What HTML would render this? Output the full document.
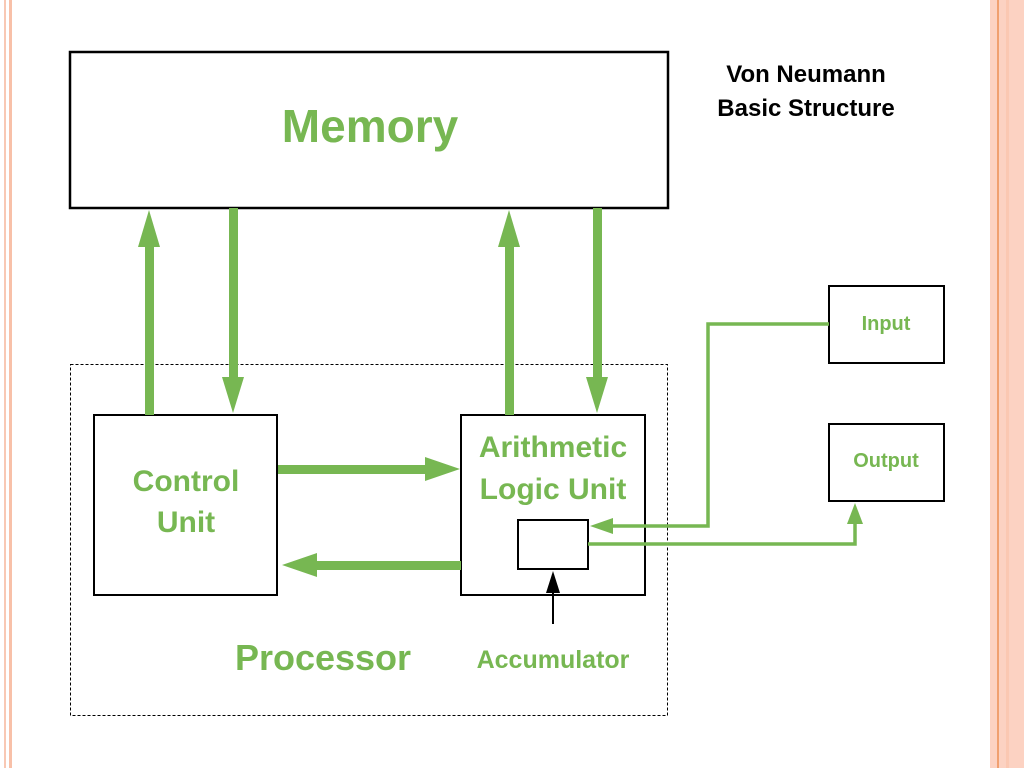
<!DOCTYPE html>
<html><head><style>body{margin:0;background:#fff}</style></head><body>
<svg width="1024" height="768" xmlns="http://www.w3.org/2000/svg" font-family="Liberation Sans, sans-serif" font-weight="bold">
<rect x="0" y="0" width="1024" height="768" fill="#fff"/>
<rect x="4" y="0" width="2" height="768" fill="#f8c8b4"/>
<rect x="9" y="0" width="3" height="768" fill="#f8c0a8"/>
<rect x="990" y="0" width="34" height="768" fill="#fcd2c2"/>
<rect x="997" y="0" width="2" height="768" fill="#f0a070"/>
<rect x="1006" y="0" width="3" height="768" fill="#fbc8b2"/>
<rect x="70" y="52" width="598" height="156" fill="#fff" stroke="#000" stroke-width="2.5"/>
<text x="370" y="142" font-size="46" fill="#77b752" text-anchor="middle">Memory</text>
<text x="806" y="82" font-size="24" fill="#000" text-anchor="middle">Von Neumann</text>
<text x="806" y="116" font-size="24" fill="#000" text-anchor="middle">Basic Structure</text>
<rect x="70.5" y="364.5" width="597" height="351" fill="none" stroke="#000" stroke-width="1" stroke-dasharray="3,2"/>
<rect x="94" y="415" width="183" height="180" fill="#fff" stroke="#000" stroke-width="2"/>
<text x="186" y="491" font-size="30" fill="#77b752" text-anchor="middle">Control</text>
<text x="186" y="532" font-size="30" fill="#77b752" text-anchor="middle">Unit</text>
<rect x="461" y="415" width="184" height="180" fill="#fff" stroke="#000" stroke-width="2"/>
<text x="553" y="457" font-size="30" fill="#77b752" text-anchor="middle">Arithmetic</text>
<text x="553" y="499" font-size="30" fill="#77b752" text-anchor="middle">Logic Unit</text>
<rect x="518" y="520" width="70" height="49" fill="#fff" stroke="#000" stroke-width="2"/>
<text x="323" y="670" font-size="36" fill="#77b752" text-anchor="middle">Processor</text>
<text x="553" y="668" font-size="25" fill="#77b752" text-anchor="middle">Accumulator</text>
<rect x="829" y="286" width="115" height="77" fill="#fff" stroke="#000" stroke-width="2"/>
<text x="886" y="330" font-size="20" fill="#77b752" text-anchor="middle">Input</text>
<rect x="829" y="424" width="115" height="77" fill="#fff" stroke="#000" stroke-width="2"/>
<text x="886" y="467" font-size="20" fill="#77b752" text-anchor="middle">Output</text>
<g fill="#77b752" stroke="none">
<rect x="145" y="245" width="9" height="170"/><polygon points="149,210 138,247 160,247"/>
<rect x="229" y="208" width="9" height="172"/><polygon points="233,413 222,377 244,377"/>
<rect x="505" y="245" width="9" height="170"/><polygon points="509,210 498,247 520,247"/>
<rect x="593" y="208" width="9" height="172"/><polygon points="597,413 586,377 608,377"/>
<rect x="278" y="465" width="150" height="9"/><polygon points="460,469 425,457 425,481"/>
<rect x="315" y="561" width="146" height="9"/><polygon points="282,565 317,553 317,577"/>
<polygon points="590,526 613,518 613,534"/>
<polygon points="855,503 847,524 863,524"/>
</g>
<polyline points="829,324 708,324 708,526 610,526" fill="none" stroke="#77b752" stroke-width="3.5"/>
<polyline points="588,544 855,544 855,520" fill="none" stroke="#77b752" stroke-width="3.5"/>
<line x1="553" y1="624" x2="553" y2="590" stroke="#000" stroke-width="2"/>
<polygon points="553,571 546,593 560,593" fill="#000"/>
</svg>
</body></html>
